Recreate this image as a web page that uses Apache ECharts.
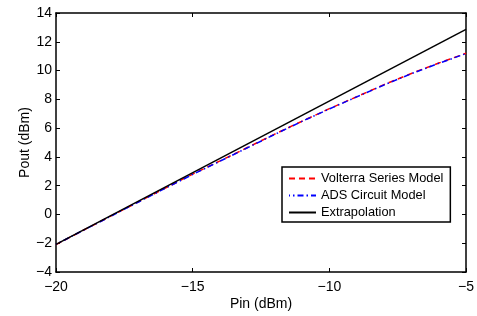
<!DOCTYPE html>
<html>
<head>
<meta charset="utf-8">
<script src="https://cdn.jsdelivr.net/npm/echarts@6/dist/echarts.min.js"></script>
<style>
html,body{margin:0;padding:0;background:#fff;}
#chart{width:477px;height:316px;}
</style>
</head>
<body>
<div id="chart"></div>
<script>
// Data
const pin = [-20, -19, -18, -17, -16, -15, -14, -13, -12, -11, -10, -9, -8, -7, -6, -5];
const volterra = [-2.1, -1.1, -0.12, 0.86, 1.83, 2.8, 3.72, 4.65, 5.58, 6.48, 7.35, 8.18, 9.02, 9.8, 10.52, 11.2];
const ads = [-2.08, -1.1, -0.13, 0.85, 1.82, 2.78, 3.7, 4.63, 5.56, 6.47, 7.33, 8.17, 9.0, 9.78, 10.5, 11.18];
const extrapPin = [-20, -5];
const extrapolation = [-2.08, 12.86];
const seriesNames = ['Volterra Series Model', 'ADS Circuit Model', 'Extrapolation'];
const xTitle = 'Pin (dBm)';
const yTitle = 'Pout (dBm)';

const zip = (xs, ys) => xs.map((x, i) => [x, ys[i]]);
const minusFmt = v => String(v).replace('-', '\u2212');
const FONT = 'Liberation Sans, Arial, Helvetica, sans-serif';

const chart = echarts.init(document.getElementById('chart'), null, {renderer: 'canvas'});
const axisLine = {show: true, onZero: false, lineStyle: {color: '#000', width: 1.5}};
const axisTick = {show: true, inside: true, length: 4, lineStyle: {color: '#000', width: 1}};

chart.setOption({
  animation: false,
  backgroundColor: '#fff',
  grid: {left: 56, right: 7.5, top: 13, bottom: 40.5, containLabel: false},
  legend: {
    orient: 'vertical',
    left: 282, top: 167,
    data: seriesNames,
    itemWidth: 27, itemHeight: 12, itemGap: 4,
    padding: [5, 7, 3, 6],
    borderColor: '#000', borderWidth: 1.5, backgroundColor: '#fff',
    itemStyle: {opacity: 0},
    textStyle: {fontFamily: FONT, fontSize: 12.8, lineHeight: 12, color: '#000'}
  },
  xAxis: [{
    type: 'value', min: -20, max: -5, interval: 5,
    name: xTitle, nameLocation: 'middle', nameGap: 25, nameMoveOverlap: false,
    nameTextStyle: {fontFamily: FONT, fontSize: 14, color: '#000'},
    axisLine, axisTick,
    axisLabel: {fontFamily: FONT, fontSize: 14, color: '#000', margin: 8, formatter: minusFmt},
    splitLine: {show: false}
  }, {
    type: 'value', min: -20, max: -5, interval: 5, position: 'top',
    axisLine, axisTick, axisLabel: {show: false}, splitLine: {show: false}
  }],
  yAxis: [{
    type: 'value', min: -4, max: 14, interval: 2,
    name: yTitle, nameLocation: 'middle', nameGap: 24, nameRotate: 90, nameMoveOverlap: false,
    nameTextStyle: {fontFamily: FONT, fontSize: 14, color: '#000'},
    axisLine, axisTick,
    axisLabel: {fontFamily: FONT, fontSize: 14, color: '#000', margin: 4, formatter: minusFmt},
    splitLine: {show: false}
  }, {
    type: 'value', min: -4, max: 14, interval: 2, position: 'right',
    axisLine, axisTick, axisLabel: {show: false}, splitLine: {show: false}
  }],
  series: [{
    name: seriesNames[0], type: 'line', data: zip(pin, volterra),
    symbol: 'none', color: '#ff0000',
    lineStyle: {color: '#ff0000', width: 1.5, type: [6, 4]}
  }, {
    name: seriesNames[1], type: 'line', data: zip(pin, ads),
    symbol: 'none', color: '#0000ff',
    lineStyle: {color: '#0000ff', width: 1.5, type: [6, 3, 1.5, 3], dashOffset: 5}
  }, {
    name: seriesNames[2], type: 'line', data: zip(extrapPin, extrapolation),
    symbol: 'none', color: '#000',
    lineStyle: {color: '#000', width: 1.5, type: 'solid'}
  }]
});
</script>
</body>
</html>
